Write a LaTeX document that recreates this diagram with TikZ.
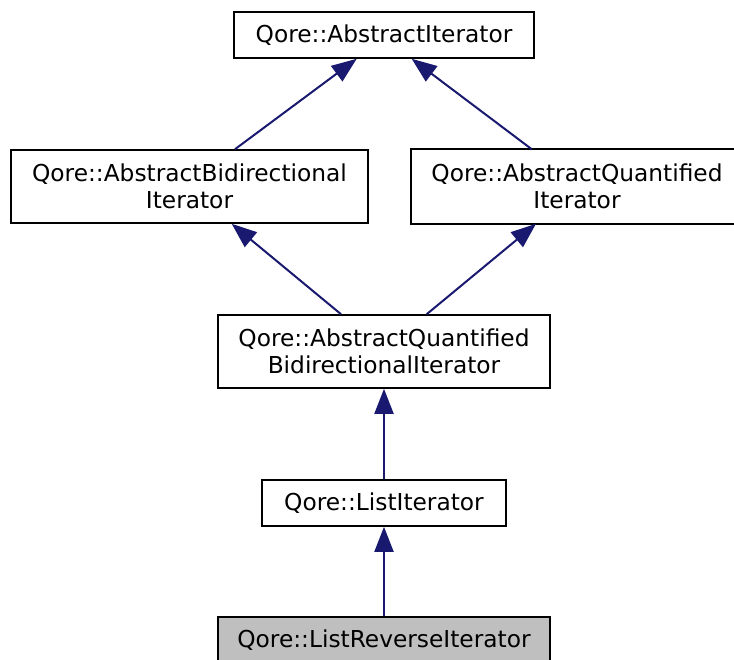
\documentclass[tikz,border=0pt]{standalone}
\usepackage{fontspec}
\setmainfont{DejaVu Sans}
\usetikzlibrary{arrows.meta}
\definecolor{edgeblue}{HTML}{191970}
\definecolor{leafgray}{HTML}{BFBFBF}
\tikzset{
  cls/.style={draw=black, line width=1.6pt, inner sep=0pt, align=center,
    font=\fontsize{23.3}{26.7}\selectfont, fill=white},
  leaf/.style={cls, fill=leafgray},
  boxline/.style={draw=black, line width=1.6pt},
  inherit/.style={draw=edgeblue, line width=2pt,
    -{Triangle[length=25pt,width=19pt]}, color=edgeblue},
}
\begin{document}
\begin{tikzpicture}[x=1pt,y=-1pt]
  \useasboundingbox (0,0) rectangle (734,659);
  \node[cls, minimum width=300pt, minimum height=46pt] (T) at (384,35) {Qore::AbstractIterator};
  \node[cls, minimum width=357pt, minimum height=73pt] (L) at (189.5,186.5) {Qore::AbstractBidirectional\\Iterator};
  % this class box runs past the right margin
  \node[cls, draw=none, minimum width=330pt, minimum height=73pt] (R) at (577,186.5) {Qore::AbstractQuantified\\Iterator};
  \draw[boxline] ([xshift=60pt]R.north east) -| (R.south west) -| ([xshift=60pt]R.north east);
  \node[cls, minimum width=332pt, minimum height=73pt] (M) at (384,351.5) {Qore::AbstractQuantified\\BidirectionalIterator};
  \node[cls, minimum width=244pt, minimum height=46pt] (LI) at (384,503) {Qore::ListIterator};
  \node[leaf, minimum width=332pt, minimum height=46pt] (LR) at (384,640) {Qore::ListReverseIterator};

  \draw[inherit] ([xshift=45.5pt]L.north) -- ([xshift=-27.3pt]T.south);
  \draw[inherit] ([xshift=-45.3pt]R.north) -- ([xshift=27.7pt]T.south);
  \draw[inherit] ([xshift=-43pt]M.north) -- ([xshift=42.2pt]L.south);
  \draw[inherit] ([xshift=42.7pt]M.north) -- ([xshift=-41pt]R.south);
  \draw[inherit] (LI.north) -- (M.south);
  \draw[inherit] (LR.north) -- (LI.south);
\end{tikzpicture}
\end{document}
